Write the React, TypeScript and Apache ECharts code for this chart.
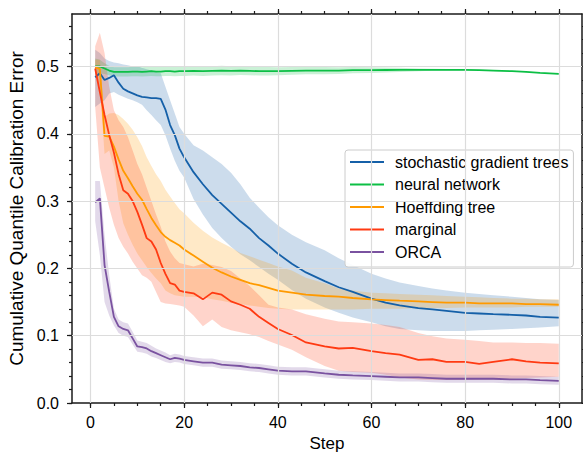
import React, { useEffect, useRef } from 'react';
import * as echarts from 'echarts';

const STEPS = [1, 2, 3, 4, 5, 6, 7, 8, 9, 10, 11, 12, 13, 14, 15, 16, 17, 18, 19, 20, 22, 24, 26, 28, 30, 32, 34, 36, 38, 40, 43, 46, 50, 53, 56, 60, 63, 66, 70, 73, 76, 80, 83, 86, 90, 93, 96, 100];

const SGT_MEAN = [0.484, 0.49, 0.48, 0.483, 0.487, 0.476, 0.467, 0.463, 0.46, 0.457, 0.455, 0.454, 0.453, 0.453, 0.452, 0.436, 0.413, 0.398, 0.378, 0.365, 0.343, 0.325, 0.309, 0.296, 0.283, 0.27, 0.259, 0.245, 0.234, 0.222, 0.207, 0.194, 0.181, 0.172, 0.165, 0.155, 0.149, 0.145, 0.141, 0.139, 0.137, 0.134, 0.133, 0.132, 0.131, 0.13, 0.128, 0.127];
const SGT_LO = [0.44, 0.445, 0.45, 0.46, 0.462, 0.458, 0.455, 0.452, 0.45, 0.447, 0.443, 0.435, 0.428, 0.42, 0.413, 0.398, 0.378, 0.36, 0.345, 0.335, 0.303, 0.28, 0.26, 0.245, 0.232, 0.221, 0.212, 0.202, 0.192, 0.183, 0.168, 0.155, 0.142, 0.134, 0.127, 0.12, 0.114, 0.11, 0.108, 0.107, 0.107, 0.107, 0.108, 0.109, 0.11, 0.111, 0.112, 0.114];
const SGT_HI = [0.525, 0.52, 0.512, 0.508, 0.506, 0.505, 0.503, 0.502, 0.5, 0.5, 0.498, 0.496, 0.494, 0.492, 0.49, 0.47, 0.45, 0.43, 0.41, 0.4, 0.383, 0.375, 0.365, 0.355, 0.342, 0.325, 0.305, 0.29, 0.276, 0.264, 0.25, 0.239, 0.227, 0.215, 0.205, 0.192, 0.185, 0.179, 0.174, 0.17, 0.167, 0.164, 0.162, 0.16, 0.158, 0.156, 0.154, 0.153];

const NN_MEAN = [0.5, 0.5, 0.497, 0.494, 0.492, 0.492, 0.492, 0.492, 0.4925, 0.4925, 0.492, 0.4925, 0.493, 0.4925, 0.4925, 0.493, 0.493, 0.4925, 0.493, 0.493, 0.4935, 0.493, 0.4935, 0.494, 0.4935, 0.494, 0.4935, 0.493, 0.493, 0.493, 0.4935, 0.494, 0.494, 0.494, 0.4945, 0.4945, 0.4948, 0.495, 0.495, 0.495, 0.495, 0.495, 0.4945, 0.494, 0.493, 0.492, 0.4905, 0.489];
const NN_LO = [0.488, 0.49, 0.489, 0.487, 0.485, 0.485, 0.485, 0.485, 0.4855, 0.4855, 0.485, 0.4855, 0.486, 0.4855, 0.4855, 0.486, 0.486, 0.4855, 0.486, 0.486, 0.4865, 0.486, 0.4865, 0.487, 0.4865, 0.4875, 0.487, 0.4866, 0.4868, 0.487, 0.4877, 0.4884, 0.4886, 0.489, 0.4898, 0.4903, 0.4912, 0.492, 0.4928, 0.4935, 0.4938, 0.494, 0.4937, 0.4933, 0.4924, 0.4914, 0.4899, 0.4885];
const NN_HI = [0.512, 0.51, 0.505, 0.501, 0.499, 0.499, 0.499, 0.499, 0.4995, 0.4995, 0.499, 0.4995, 0.5, 0.4995, 0.4995, 0.5, 0.5, 0.4995, 0.5, 0.5, 0.5005, 0.5, 0.5005, 0.501, 0.5005, 0.5005, 0.5, 0.4994, 0.4992, 0.499, 0.4993, 0.4996, 0.4994, 0.499, 0.4992, 0.4987, 0.4984, 0.498, 0.4972, 0.4965, 0.4962, 0.496, 0.4953, 0.4947, 0.4936, 0.4926, 0.4911, 0.4895];

const HT_MEAN = [0.499, 0.496, 0.397, 0.396, 0.381, 0.362, 0.345, 0.334, 0.322, 0.311, 0.302, 0.288, 0.275, 0.264, 0.254, 0.247, 0.242, 0.238, 0.234, 0.228, 0.219, 0.21, 0.201, 0.194, 0.188, 0.183, 0.178, 0.175, 0.171, 0.167, 0.164, 0.161, 0.159, 0.158, 0.156, 0.154, 0.153, 0.152, 0.151, 0.15, 0.149, 0.149, 0.148, 0.148, 0.148, 0.147, 0.147, 0.146];
const HT_LO = [0.49, 0.47, 0.37, 0.375, 0.35, 0.3, 0.267, 0.25, 0.235, 0.222, 0.212, 0.202, 0.193, 0.185, 0.178, 0.167, 0.163, 0.16, 0.159, 0.158, 0.158, 0.157, 0.154, 0.152, 0.149, 0.147, 0.145, 0.143, 0.141, 0.14, 0.139, 0.139, 0.139, 0.139, 0.139, 0.14, 0.14, 0.14, 0.141, 0.141, 0.141, 0.142, 0.142, 0.142, 0.142, 0.143, 0.143, 0.143];
const HT_HI = [0.51, 0.51, 0.425, 0.43, 0.431, 0.428, 0.422, 0.415, 0.406, 0.395, 0.382, 0.365, 0.352, 0.34, 0.33, 0.317, 0.307, 0.297, 0.288, 0.282, 0.268, 0.256, 0.246, 0.238, 0.231, 0.223, 0.218, 0.213, 0.208, 0.203, 0.197, 0.186, 0.178, 0.17, 0.167, 0.164, 0.163, 0.162, 0.161, 0.16, 0.159, 0.158, 0.157, 0.156, 0.155, 0.155, 0.154, 0.154];

const MARG_MEAN = [0.497, 0.462, 0.428, 0.398, 0.372, 0.34, 0.316, 0.311, 0.3, 0.284, 0.265, 0.245, 0.24, 0.228, 0.208, 0.192, 0.178, 0.176, 0.167, 0.165, 0.163, 0.154, 0.164, 0.161, 0.151, 0.146, 0.14, 0.128, 0.119, 0.11, 0.101, 0.09, 0.084, 0.081, 0.082, 0.077, 0.074, 0.072, 0.064, 0.065, 0.061, 0.061, 0.058, 0.061, 0.065, 0.062, 0.06, 0.059];
const MARG_LO = [0.44, 0.35, 0.32, 0.29, 0.265, 0.245, 0.232, 0.222, 0.21, 0.2, 0.19, 0.186, 0.18, 0.165, 0.15, 0.148, 0.147, 0.146, 0.145, 0.143, 0.13, 0.114, 0.124, 0.113, 0.108, 0.105, 0.102, 0.098, 0.092, 0.087, 0.079, 0.068, 0.055, 0.048, 0.046, 0.045, 0.042, 0.038, 0.035, 0.034, 0.034, 0.034, 0.035, 0.035, 0.036, 0.037, 0.038, 0.039];
const MARG_HI = [0.53, 0.55, 0.52, 0.47, 0.435, 0.42, 0.41, 0.395, 0.375, 0.355, 0.34, 0.32, 0.3, 0.28, 0.262, 0.24, 0.225, 0.215, 0.208, 0.206, 0.203, 0.207, 0.205, 0.202, 0.196, 0.185, 0.174, 0.16, 0.146, 0.142, 0.139, 0.132, 0.125, 0.121, 0.12, 0.118, 0.116, 0.113, 0.104, 0.099, 0.096, 0.094, 0.092, 0.09, 0.09, 0.089, 0.089, 0.088];

const ORCA_MEAN = [0.298, 0.304, 0.205, 0.165, 0.128, 0.114, 0.11, 0.108, 0.096, 0.084, 0.083, 0.081, 0.077, 0.074, 0.071, 0.068, 0.065, 0.067, 0.066, 0.064, 0.062, 0.06, 0.06, 0.057, 0.056, 0.055, 0.053, 0.052, 0.05, 0.048, 0.047, 0.047, 0.044, 0.042, 0.041, 0.04, 0.039, 0.038, 0.038, 0.037, 0.036, 0.036, 0.036, 0.036, 0.035, 0.035, 0.034, 0.033];
const ORCA_LO = [0.27, 0.22, 0.15, 0.13, 0.115, 0.104, 0.1, 0.098, 0.087, 0.076, 0.075, 0.073, 0.069, 0.067, 0.064, 0.061, 0.059, 0.061, 0.06, 0.058, 0.056, 0.054, 0.054, 0.051, 0.05, 0.049, 0.047, 0.046, 0.044, 0.042, 0.041, 0.041, 0.038, 0.036, 0.035, 0.034, 0.033, 0.032, 0.032, 0.031, 0.03, 0.03, 0.03, 0.03, 0.029, 0.029, 0.028, 0.027];
const ORCA_HI = [0.33, 0.33, 0.25, 0.19, 0.14, 0.124, 0.12, 0.118, 0.106, 0.093, 0.091, 0.089, 0.085, 0.081, 0.078, 0.075, 0.071, 0.073, 0.072, 0.07, 0.068, 0.066, 0.066, 0.063, 0.062, 0.061, 0.059, 0.058, 0.056, 0.054, 0.053, 0.053, 0.05, 0.048, 0.047, 0.046, 0.045, 0.044, 0.044, 0.043, 0.042, 0.042, 0.042, 0.042, 0.041, 0.041, 0.04, 0.039];

const SERIES_NAMES = ['stochastic gradient trees', 'neural network', 'Hoeffding tree', 'marginal', 'ORCA'];
const COLORS = ['#1560a8', '#0cbf45', '#ff9a00', '#ff3a12', '#7a52a0'];

const X_TICKS = [0, 20, 40, 60, 80, 100];
const X_MINOR = [0, 5, 10, 15, 20, 25, 30, 35, 40, 45, 50, 55, 60, 65, 70, 75, 80, 85, 90, 95, 100];
const Y_TICKS = [0, 0.1, 0.2, 0.3, 0.4, 0.5];
const Y_MINOR = [0, 0.02, 0.04, 0.06, 0.08, 0.1, 0.12, 0.14, 0.16, 0.18, 0.2, 0.22, 0.24, 0.26, 0.28, 0.3, 0.32, 0.34, 0.36, 0.38, 0.4, 0.42, 0.44, 0.46, 0.48, 0.5, 0.52, 0.54, 0.56];

const X_MIN = -3.95;
const X_MAX = 104.95;
const Y_MIN = 0;
const Y_MAX = 0.578;

const FONT = '"Liberation Sans", Arial, Helvetica, sans-serif';
const AXIS_COLOR = '#1a1a1a';

export default function App() {
  const ref = useRef<HTMLDivElement>(null);

  useEffect(() => {
    if (!ref.current) return;
    const chart = echarts.init(ref.current, null, { renderer: 'svg' });

    const means = [SGT_MEAN, NN_MEAN, HT_MEAN, MARG_MEAN, ORCA_MEAN];
    const los = [SGT_LO, NN_LO, HT_LO, MARG_LO, ORCA_LO];
    const his = [SGT_HI, NN_HI, HT_HI, MARG_HI, ORCA_HI];

    const bandSeries = means.map((_, k) => ({
      type: 'custom',
      name: 'band-' + k,
      coordinateSystem: 'cartesian2d',
      xAxisIndex: 0,
      yAxisIndex: 0,
      silent: true,
      z: 2,
      data: STEPS.map((s, i) => [s, los[k][i], his[k][i]]),
      encode: { x: 0, y: [1, 2] },
      renderItem: (params: any, api: any) => {
        if (params.dataIndex !== 0) return { type: 'group', children: [] };
        const top = STEPS.map((s, i) => api.coord([s, his[k][i]]));
        const bot = STEPS.map((s, i) => api.coord([s, los[k][i]])).reverse();
        return {
          type: 'polygon',
          shape: { points: top.concat(bot) },
          style: { fill: COLORS[k], opacity: 0.22 },
        };
      },
    }));

    const lineSeries = means.map((m, k) => ({
      type: 'line',
      name: SERIES_NAMES[k],
      xAxisIndex: 0,
      yAxisIndex: 0,
      z: 3,
      symbol: 'none',
      showSymbol: false,
      smooth: false,
      data: STEPS.map((s, i) => [s, m[i]]),
      lineStyle: { color: COLORS[k], width: 1.8 },
      itemStyle: { color: COLORS[k] },
    }));

    const gridSeries = {
      type: 'line',
      name: 'grid',
      xAxisIndex: 0,
      yAxisIndex: 0,
      z: 1,
      silent: true,
      data: [],
      markLine: {
        silent: true,
        symbol: ['none', 'none'],
        label: { show: false },
        lineStyle: { color: '#dcdcdc', width: 1.2, type: 'solid' },
        data: [
          ...X_TICKS.map((v) => ({ xAxis: v })),
          ...Y_TICKS.filter((v) => v > 0).map((v) => ({ yAxis: v })),
        ],
      },
    };

    const tickLine = { color: AXIS_COLOR, width: 1.2 };
    const baseX = { type: 'value', min: X_MIN, max: X_MAX, splitLine: { show: false } };
    const baseY = { type: 'value', min: Y_MIN, max: Y_MAX, splitLine: { show: false } };
    const gridRect = { left: 72, top: 14, width: 510, height: 389, containLabel: false, outerBoundsMode: 'none' };

    const option: any = {
      animation: false,
      backgroundColor: '#ffffff',
      textStyle: { fontFamily: FONT },
      grid: [{ ...gridRect }, { ...gridRect }],
      xAxis: [
        {
          ...baseX,
          gridIndex: 0,
          position: 'bottom',
          axisLine: { show: true, onZero: false, lineStyle: { color: AXIS_COLOR, width: 1.5 } },
          axisTick: { show: true, customValues: X_TICKS, length: 5, lineStyle: tickLine },
          axisLabel: {
            show: true,
            customValues: X_TICKS,
            margin: 11,
            fontSize: 16,
            color: '#000',
            fontFamily: FONT,
            formatter: (v: number) => String(Math.round(v)),
          },
          name: 'Step',
          nameLocation: 'middle',
          nameGap: 27,
          nameTextStyle: { fontSize: 17, color: '#000', fontFamily: FONT, lineHeight: 18 },
        },
        {
          ...baseX,
          gridIndex: 0,
          position: 'top',
          axisLine: { show: true, onZero: false, lineStyle: { color: AXIS_COLOR, width: 1.5 } },
          axisTick: { show: true, customValues: X_TICKS, length: 5, lineStyle: tickLine },
          axisLabel: { show: false },
        },
        {
          ...baseX,
          gridIndex: 1,
          position: 'bottom',
          axisLine: { show: false, onZero: false },
          axisTick: { show: true, customValues: X_MINOR, length: 3, lineStyle: tickLine },
          axisLabel: { show: false },
        },
        {
          ...baseX,
          gridIndex: 1,
          position: 'top',
          axisLine: { show: false, onZero: false },
          axisTick: { show: true, customValues: X_MINOR, length: 3, lineStyle: tickLine },
          axisLabel: { show: false },
        },
      ],
      yAxis: [
        {
          ...baseY,
          gridIndex: 0,
          position: 'left',
          axisLine: { show: true, onZero: false, lineStyle: { color: AXIS_COLOR, width: 1.5 } },
          axisTick: { show: true, customValues: Y_TICKS, length: 5, lineStyle: tickLine },
          axisLabel: {
            show: true,
            customValues: Y_TICKS,
            margin: 13,
            fontSize: 16,
            color: '#000',
            fontFamily: FONT,
            formatter: (v: number) => v.toFixed(1),
          },
          name: 'Cumulative Quantile Calibration Error',
          nameLocation: 'middle',
          nameGap: 42,
          nameTextStyle: { fontSize: 19, color: '#000', fontFamily: FONT },
        },
        {
          ...baseY,
          gridIndex: 0,
          position: 'right',
          axisLine: { show: true, onZero: false, lineStyle: { color: AXIS_COLOR, width: 1.5 } },
          axisTick: { show: true, customValues: Y_TICKS, length: 5, lineStyle: tickLine },
          axisLabel: { show: false },
        },
        {
          ...baseY,
          gridIndex: 1,
          position: 'left',
          axisLine: { show: false, onZero: false },
          axisTick: { show: true, customValues: Y_MINOR, length: 3, lineStyle: tickLine },
          axisLabel: { show: false },
        },
        {
          ...baseY,
          gridIndex: 1,
          position: 'right',
          axisLine: { show: false, onZero: false },
          axisTick: { show: true, customValues: Y_MINOR, length: 3, lineStyle: tickLine },
          axisLabel: { show: false },
        },
      ],
      legend: {
        data: SERIES_NAMES,
        orient: 'vertical',
        left: 345,
        top: 150,
        padding: [4, 5, 7, 5],
        itemGap: 6.5,
        icon: 'rect',
        itemWidth: 34,
        itemHeight: 2,
        backgroundColor: 'rgba(255,255,255,0.9)',
        borderColor: '#cccccc',
        borderWidth: 1,
        borderRadius: 3,
        selectedMode: false,
        textStyle: { fontSize: 16, color: '#000', fontFamily: FONT, lineHeight: 16, padding: [0, 0, 0, 6] },
      },
      series: [gridSeries, ...bandSeries, ...lineSeries],
    };

    chart.setOption(option);
    return () => chart.dispose();
  }, []);

  return <div ref={ref} style={{ position: 'absolute', left: 0, top: 0, width: 583, height: 452 }} />;
}
